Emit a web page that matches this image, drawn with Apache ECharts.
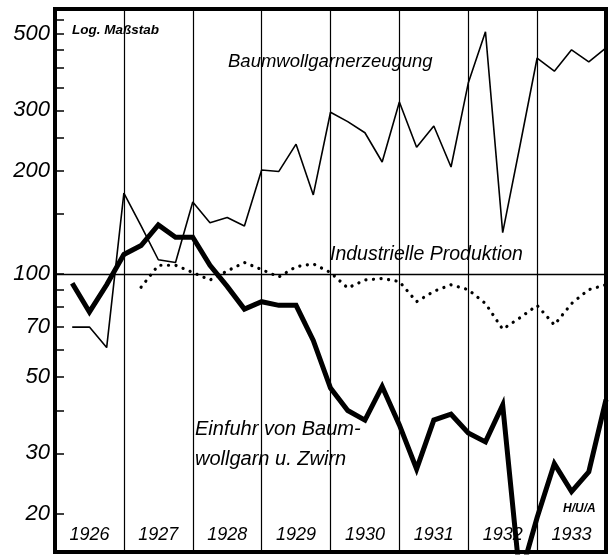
<!DOCTYPE html>
<html>
<head>
<meta charset="utf-8">
<script src="https://cdn.jsdelivr.net/npm/echarts@6/dist/echarts.min.js"></script>
<style>
  html, body { margin: 0; padding: 0; background: #fff; }
  #chart { width: 609px; height: 557px; }
</style>
</head>
<body>
<div id="chart"></div>
<script>
// Quarter positions: index 0 = end of 1925, then 1926 I ... 1933 IV
const quarters = ['1925 IV',
  '1926 I','1926 II','1926 III','1926 IV',
  '1927 I','1927 II','1927 III','1927 IV',
  '1928 I','1928 II','1928 III','1928 IV',
  '1929 I','1929 II','1929 III','1929 IV',
  '1930 I','1930 II','1930 III','1930 IV',
  '1931 I','1931 II','1931 III','1931 IV',
  '1932 I','1932 II','1932 III','1932 IV',
  '1933 I','1933 II','1933 III','1933 IV'];

const years = ['1926','1927','1928','1929','1930','1931','1932','1933'];

// Baumwollgarnerzeugung (thin line), quarterly 1926 I .. 1933 IV
const garnErzeugung = [
  70, 70, 61, 172,
  138, 110, 108, 162,
  141, 146, 138, 201,
  199, 239, 170, 296,
  278, 258, 212, 317,
  234, 270, 205, 360,
  508, 132, 236, 426,
  390, 450, 415, 456
];

// Industrielle Produktion (dotted line)
const industrieProduktion = [
  null, null, null, null,
  91.5, 106, 106, 101,
  96, 102, 108, 103,
  98, 105, 107, 101,
  91, 96, 97, 95,
  83, 89, 93, 90,
  82, 69, 74.5, 81,
  71, 82, 90, 93
];

// Einfuhr von Baumwollgarn u. Zwirn (thick line)
const einfuhr = [
  94, 77.5, 93, 114,
  121, 139, 128, 128,
  106, 92, 79, 83,
  81, 81, 64, 46.5,
  40, 37.5, 47, 36.3,
  27, 37.5, 39, 34.4,
  32.4, 41.5, 13, 19.5,
  28, 23.2, 26.5, 43
];

const yLabelValues = [20, 30, 50, 70, 100, 200, 300, 500];
const yTickValues = [20, 30, 40, 50, 60, 70, 80, 90, 100, 150, 200, 250, 300, 350, 400, 450, 500, 550];

const FONT = '"Liberation Sans", "DejaVu Sans", sans-serif';

const chart = echarts.init(document.getElementById('chart'), null, { renderer: 'canvas' });

function withStart(arr) { return [null].concat(arr); }

chart.setOption({
  backgroundColor: '#fff',
  animation: false,
  grid: {
    left: 55, top: 9, width: 551, height: 543,
    show: true, borderColor: '#000', borderWidth: 4, backgroundColor: 'transparent'
  },
  xAxis: {
    type: 'category',
    data: quarters,
    boundaryGap: false,
    axisLine: { show: false },
    axisTick: { show: false },
    splitLine: {
      show: true,
      interval: function (i) { return i % 4 === 0; },
      lineStyle: { color: '#000', width: 1.2 }
    },
    axisLabel: {
      show: true,
      inside: true,
      margin: 8,
      interval: function (i) { return i % 4 === 2; },
      formatter: function (v, i) { return years[Math.floor(i / 4)]; },
      color: '#000',
      fontFamily: FONT,
      fontStyle: 'italic',
      fontSize: 18
    }
  },
  yAxis: {
    type: 'log',
    logBase: 10,
    min: 15.47,
    max: 592,
    axisLine: { show: false },
    axisTick: {
      show: true, inside: true, length: 9,
      customValues: yTickValues,
      lineStyle: { color: '#000', width: 1.5 }
    },
    axisLabel: {
      show: true,
      customValues: yLabelValues,
      margin: 5,
      color: '#000',
      fontFamily: FONT,
      fontStyle: 'italic',
      fontSize: 22,
      formatter: function (v) { return String(Math.round(v)); }
    },
    splitLine: { show: false }
  },
  series: [
    {
      name: 'Baumwollgarnerzeugung',
      type: 'line',
      data: withStart(garnErzeugung),
      showSymbol: false, symbol: 'none',
      lineStyle: { color: '#000', width: 1.6 },
      z: 3,
      markLine: {
        silent: true,
        symbol: 'none',
        label: { show: false },
        lineStyle: { color: '#000', width: 1.3, type: 'solid' },
        data: [{ yAxis: 100 }]
      }
    },
    {
      name: 'Industrielle Produktion',
      type: 'line',
      data: withStart(industrieProduktion),
      showSymbol: false, symbol: 'none',
      lineStyle: { color: '#000', width: 3.2, type: [0.1, 7.5], cap: 'round' },
      z: 3
    },
    {
      name: 'Einfuhr von Baumwollgarn u. Zwirn',
      type: 'line',
      data: withStart(einfuhr),
      showSymbol: false, symbol: 'none',
      lineStyle: { color: '#000', width: 5, join: 'miter' },
      z: 4
    }
  ],
  graphic: [
    { type: 'text', left: 72, top: 23, z: 10,
      style: { text: 'Log. Maßstab', font: 'italic bold 13.5px ' + FONT, fill: '#000' } },
    { type: 'text', left: 228, top: 52, z: 10,
      style: { text: 'Baumwollgarnerzeugung', font: 'italic 18.5px ' + FONT, fill: '#000' } },
    { type: 'text', left: 330, top: 245, z: 10,
      style: { text: 'Industrielle Produktion', font: 'italic 19.5px ' + FONT, fill: '#000' } },
    { type: 'text', left: 195, top: 419, z: 10,
      style: { text: 'Einfuhr von Baum-', font: 'italic 20px ' + FONT, fill: '#000' } },
    { type: 'text', left: 195, top: 449, z: 10,
      style: { text: 'wollgarn u. Zwirn', font: 'italic 20px ' + FONT, fill: '#000' } },
    { type: 'text', left: 563, top: 503, z: 10,
      style: { text: 'H/U/A', font: 'italic bold 12px ' + FONT, fill: '#000' } }
  ]
});
</script>
</body>
</html>
